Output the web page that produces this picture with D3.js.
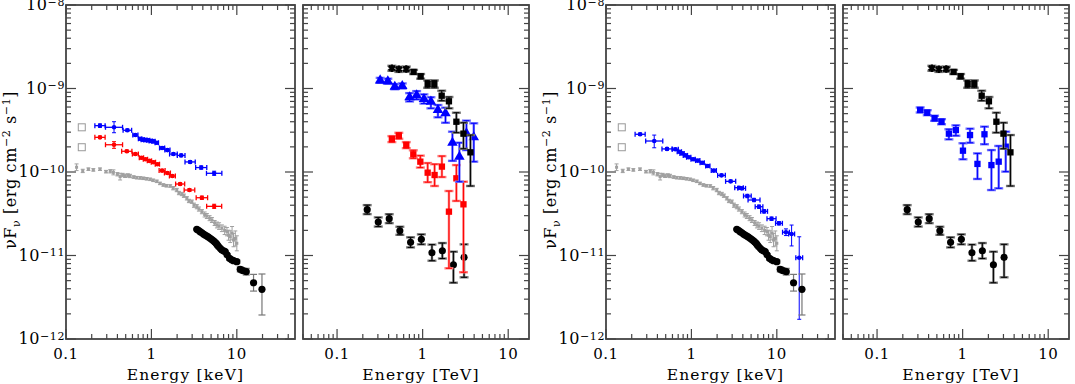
<!DOCTYPE html>
<html>
<head>
<meta charset="utf-8">
<script src="https://cdn.jsdelivr.net/npm/d3@7"></script>
<style>
  body { margin: 0; background: #fff; }
  text { font-family: "DejaVu Serif", serif; fill: #000; }
</style>
</head>
<body>
<div id="chart"></div>
<script>
// ---------- data ----------

// open grey squares (UV)
var uvE = [0.153, 0.153];
var uvF = [3.43e-10, 1.98e-10];

// grey X-ray spectrum (keV), error in dex
var greyE = [0.133, 0.157, 0.183, 0.209, 0.25, 0.294, 0.33, 0.359, 0.40, 0.43, 0.46, 0.492, 0.53, 0.562,
  0.62, 0.674, 0.74, 0.806, 0.88, 0.966, 1.05, 1.156, 1.26, 1.38, 1.5, 1.66, 1.8, 1.98, 2.1, 2.27, 2.4,
  2.6, 2.75, 2.97, 3.15, 3.4, 3.6, 3.9, 4.2, 4.46, 4.8, 5.11, 5.5, 5.85, 6.2, 6.69, 7.2, 7.66, 8.0,
  8.37, 8.8, 9.15, 9.6, 10.0];
var greyF = [1.14e-10, 1.03e-10, 1.08e-10, 1.06e-10, 1.08e-10, 1.01e-10, 1.02e-10, 9.9e-11, 9.4e-11,
  8.8e-11, 9.2e-11, 9.0e-11, 9.1e-11, 8.96e-11, 8.7e-11, 8.55e-11, 8.5e-11, 8.4e-11, 8.3e-11, 8.17e-11,
  7.95e-11, 7.73e-11, 7.3e-11, 6.99e-11, 6.85e-11, 6.8e-11, 6.4e-11, 6.08e-11, 5.6e-11, 5.45e-11,
  5.2e-11, 4.84e-11, 4.5e-11, 4.41e-11, 4.0e-11, 3.84e-11, 3.6e-11, 3.35e-11, 3.1e-11, 2.97e-11,
  2.8e-11, 2.66e-11, 2.45e-11, 2.32e-11, 2.25e-11, 2.12e-11, 2.0e-11, 1.93e-11, 1.75e-11, 1.68e-11,
  1.85e-11, 1.53e-11, 1.6e-11, 1.40e-11];
var greyErr = [0.04, 0.02, 0.015, 0.015, 0.015, 0.015, 0.02, 0.03, 0.02, 0.04, 0.02, 0.02, 0.02, 0.02,
  0.015, 0.015, 0.015, 0.015, 0.015, 0.015, 0.015, 0.015, 0.015, 0.015, 0.015, 0.015, 0.02, 0.02, 0.02,
  0.02, 0.02, 0.02, 0.02, 0.02, 0.025, 0.025, 0.025, 0.025, 0.03, 0.03, 0.03, 0.03, 0.03, 0.035, 0.04,
  0.04, 0.05, 0.05, 0.06, 0.07, 0.08, 0.08, 0.09, 0.09];

// black hard X-ray circles (keV)
var hardE = [3.40, 3.55, 3.72, 3.9, 4.07, 4.25, 4.46, 4.65, 4.88, 5.1, 5.33, 5.53, 5.73, 5.9, 6.11,
  6.4, 6.69, 7.0, 7.31, 7.7, 8.22, 8.7, 9.15, 10.0, 10.96, 11.8, 12.9, 15.7, 19.7];
var hardF = [2.06e-11, 2.0e-11, 1.93e-11, 1.87e-11, 1.81e-11, 1.76e-11, 1.71e-11, 1.66e-11, 1.61e-11,
  1.55e-11, 1.50e-11, 1.45e-11, 1.40e-11, 1.34e-11, 1.28e-11, 1.22e-11, 1.16e-11, 1.14e-11, 1.11e-11,
  1.02e-11, 9.25e-12, 8.9e-12, 8.67e-12, 8.43e-12, 6.83e-12, 6.6e-12, 6.4e-12, 4.72e-12, 3.94e-12];
var hardErrDn = [0.01, 0.01, 0.01, 0.01, 0.01, 0.01, 0.01, 0.01, 0.01, 0.01, 0.01, 0.01, 0.01, 0.01,
  0.01, 0.01, 0.01, 0.01, 0.01, 0.01, 0.02, 0.02, 0.02, 0.02, 0.03, 0.03, 0.04, 0.1, 0.308];
var hardErrUp = [0.01, 0.01, 0.01, 0.01, 0.01, 0.01, 0.01, 0.01, 0.01, 0.01, 0.01, 0.01, 0.01, 0.01,
  0.01, 0.01, 0.01, 0.01, 0.01, 0.01, 0.02, 0.02, 0.02, 0.02, 0.03, 0.03, 0.04, 0.1, 0.183];

// left figure, blue X-ray (keV); x half-width and y errors in dex
var blueAE = [0.25, 0.365, 0.523, 0.649, 0.737, 0.793, 0.851, 0.915, 0.984, 1.055, 1.156, 1.334, 1.54,
  1.81, 2.23, 2.84, 3.83, 5.43];
var blueAF = [3.59e-10, 3.43e-10, 3.16e-10, 2.77e-10, 2.5e-10, 2.44e-10, 2.42e-10, 2.40e-10, 2.35e-10,
  2.33e-10, 2.24e-10, 1.94e-10, 1.83e-10, 1.64e-10, 1.58e-10, 1.32e-10, 1.13e-10, 9.65e-11];
var blueADx = [0.06, 0.10, 0.05, 0.03, 0.02, 0.02, 0.02, 0.02, 0.02, 0.02, 0.02, 0.03, 0.03, 0.045,
  0.045, 0.06, 0.065, 0.09];
var blueADn = [0.02, 0.065, 0.015, 0.015, 0.015, 0.015, 0.015, 0.015, 0.015, 0.015, 0.015, 0.015, 0.015,
  0.015, 0.015, 0.015, 0.02, 0.025];
var blueAUp = [0.02, 0.067, 0.015, 0.015, 0.015, 0.015, 0.015, 0.015, 0.015, 0.015, 0.015, 0.015, 0.015,
  0.015, 0.015, 0.015, 0.02, 0.025];

// left figure, red X-ray (keV)
var redAE = [0.25, 0.365, 0.515, 0.649, 0.764, 0.851, 0.948, 1.055, 1.175, 1.334, 1.54, 1.76, 2.17,
  2.79, 3.90, 5.43];
var redAF = [2.60e-10, 2.12e-10, 1.77e-10, 1.64e-10, 1.48e-10, 1.42e-10, 1.36e-10, 1.31e-10, 1.24e-10,
  1.04e-10, 9.73e-11, 8.96e-11, 7.18e-11, 6.08e-11, 4.92e-11, 3.88e-11];
var redADx = [0.06, 0.10, 0.06, 0.035, 0.025, 0.025, 0.025, 0.025, 0.025, 0.035, 0.035, 0.035, 0.053,
  0.062, 0.067, 0.088];
var redADn = [0.015, 0.043, 0.015, 0.015, 0.015, 0.015, 0.015, 0.015, 0.015, 0.015, 0.015, 0.015, 0.015,
  0.015, 0.02, 0.025];
var redAUp = [0.015, 0.037, 0.015, 0.015, 0.015, 0.015, 0.015, 0.015, 0.015, 0.015, 0.015, 0.015, 0.015,
  0.015, 0.02, 0.025];

// right figure, blue X-ray (keV)
var blueBE = [0.251, 0.367, 0.518, 0.648, 0.722, 0.777, 0.85, 0.93, 1.047, 1.186, 1.336, 1.556, 1.83,
  2.25, 2.88, 3.61, 3.88, 4.52, 5.41, 6.19, 7.10, 8.67, 10.6, 12.8, 14.9, 18.3];
var blueBF = [2.83e-10, 2.35e-10, 1.89e-10, 1.87e-10, 1.75e-10, 1.67e-10, 1.58e-10, 1.50e-10, 1.42e-10,
  1.37e-10, 1.29e-10, 1.18e-10, 1.04e-10, 9.12e-11, 7.73e-11, 6.49e-11, 6.37e-11, 5.16e-11, 4.62e-11,
  3.84e-11, 3.38e-11, 2.76e-11, 2.43e-11, 1.90e-11, 1.81e-11, 9.4e-12];
var blueBDx = [0.059, 0.10, 0.059, 0.035, 0.025, 0.025, 0.025, 0.025, 0.025, 0.025, 0.025, 0.025, 0.03,
  0.045, 0.059, 0.05, 0.045, 0.045, 0.07, 0.045, 0.04, 0.053, 0.04, 0.04, 0.035, 0.04];
var blueBDn = [0.015, 0.081, 0.015, 0.015, 0.015, 0.015, 0.015, 0.015, 0.015, 0.015, 0.015, 0.015, 0.015,
  0.015, 0.015, 0.015, 0.015, 0.02, 0.02, 0.02, 0.02, 0.02, 0.02, 0.04, 0.143, 0.737];
var blueBUp = [0.015, 0.071, 0.015, 0.015, 0.015, 0.015, 0.015, 0.015, 0.015, 0.015, 0.015, 0.015, 0.015,
  0.015, 0.015, 0.015, 0.015, 0.02, 0.02, 0.02, 0.02, 0.02, 0.02, 0.04, 0.107, 0.251];

// gamma rays (TeV): black stars and squares, both figures
var starE = [0.437, 0.527, 0.644];
var starF = [1.75e-9, 1.70e-9, 1.71e-9];
var starLo = [1.63e-9, 1.58e-9, 1.59e-9];
var starHi = [1.87e-9, 1.82e-9, 1.83e-9];

var sqE = [0.784, 0.948, 1.145, 1.37, 1.67, 2.03, 2.48, 3.0, 3.62];
var sqF = [1.58e-9, 1.40e-9, 1.13e-9, 1.13e-9, 8.2e-10, 7.03e-10, 4.0e-10, 2.88e-10, 1.72e-10];
var sqLo = [1.49e-9, 1.31e-9, 1.02e-9, 1.02e-9, 7.14e-10, 5.79e-10, 2.96e-10, 1.90e-10, 6.8e-11];
var sqHi = [1.67e-9, 1.49e-9, 1.25e-9, 1.25e-9, 9.41e-10, 7.91e-10, 5.13e-10, 3.89e-10, 2.77e-10];

// gamma rays (TeV): low black circles, both figures
var lowE = [0.225, 0.303, 0.407, 0.542, 0.723, 0.966, 1.285, 1.70, 2.29, 3.05];
var lowF = [3.54e-11, 2.52e-11, 2.76e-11, 1.98e-11, 1.44e-11, 1.56e-11, 1.08e-11, 1.14e-11, 7.76e-12, 9.5e-12];
var lowLo = [3.13e-11, 2.22e-11, 2.44e-11, 1.77e-11, 1.25e-11, 1.36e-11, 8.66e-12, 9.2e-12, 4.72e-12, 5.48e-12];
var lowHi = [4.01e-11, 2.86e-11, 3.12e-11, 2.21e-11, 1.65e-11, 1.79e-11, 1.35e-11, 1.41e-11, 1.11e-11, 1.36e-11];

// left figure: blue triangles (TeV)
var triE = [0.319, 0.392, 0.473, 0.578, 0.704, 0.851, 1.036, 1.25, 1.51, 1.85, 2.23, 2.69, 3.25, 3.96];
var triF = [1.25e-9, 1.22e-9, 1.05e-9, 1.07e-9, 7.85e-10, 8.3e-10, 7.49e-10, 6.95e-10, 5.53e-10, 5.05e-10,
  2.24e-10, 1.52e-10, 2.90e-10, 2.61e-10];
var triLo = [1.17e-9, 1.14e-9, 0.98e-9, 1.0e-9, 7.0e-10, 7.4e-10, 6.6e-10, 5.79e-10, 4.52e-10, 3.89e-10,
  1.36e-10, 7.65e-11, 1.83e-10, 1.33e-10];
var triHi = [1.34e-9, 1.31e-9, 1.13e-9, 1.15e-9, 8.8e-10, 9.3e-10, 8.5e-10, 7.85e-10, 6.34e-10, 5.89e-10,
  3.04e-10, 2.24e-10, 4.12e-10, 3.83e-10];

// left figure: red squares (TeV)
var redTE = [0.437, 0.527, 0.644, 0.778, 0.940, 1.145, 1.38, 1.68, 2.03, 2.48, 3.0];
var redTF = [2.48e-10, 2.72e-10, 2.10e-10, 1.63e-10, 1.33e-10, 9.82e-11, 9.2e-11, 1.16e-10, 3.35e-11, 8.4e-11, 4.1e-11];
var redTLo = [2.28e-10, 2.50e-10, 1.93e-10, 1.46e-10, 1.13e-10, 7.55e-11, 6.8e-11, 8.7e-11, 7.03e-12, 4.5e-11, 6.3e-12];
var redTHi = [2.69e-10, 2.95e-10, 2.28e-10, 1.82e-10, 1.57e-10, 1.28e-10, 1.24e-10, 1.55e-10, 5.92e-11, 1.21e-10, 7.65e-11];

// right figure: blue squares (TeV)
var bsqE = [0.319, 0.386, 0.470, 0.567, 0.691, 0.834, 1.009, 1.22, 1.49, 1.80, 2.17, 2.64, 3.19];
var bsqF = [5.53e-10, 5.13e-10, 4.40e-10, 4.0e-10, 2.88e-10, 3.18e-10, 1.80e-10, 2.77e-10, 1.25e-10, 2.83e-10,
  1.21e-10, 1.33e-10, 2.01e-10];
var bsqLo = [5.16e-10, 4.79e-10, 4.10e-10, 3.73e-10, 2.46e-10, 2.72e-10, 1.42e-10, 2.24e-10, 8.25e-11, 2.15e-10,
  6.08e-11, 6.38e-11, 1.01e-10];
var bsqHi = [5.93e-10, 5.50e-10, 4.72e-10, 4.29e-10, 3.25e-10, 3.62e-10, 2.21e-10, 3.30e-10, 1.67e-10, 3.49e-10,
  1.83e-10, 2.05e-10, 3.04e-10];

var yDecades = [-12, -11, -10, -9, -8];
var xLabelVals = [0.1, 1, 10];

// ---------- layout ----------
var W = 1075, H = 384;
var top_ = 5, bottom = 339;
var axisCol = "#444";

var svg = d3.select("#chart").append("svg")
    .attr("width", W)
    .attr("height", H);

var y = d3.scaleLog().domain([1e-12, 1e-8]).range([bottom, top_]);

function logTicks(lo, hi) {
    var out = [];
    for (var d = Math.floor(Math.log10(lo)); d <= Math.ceil(Math.log10(hi)); d++) {
        for (var m = 1; m < 10; m++) {
            var v = m * Math.pow(10, d);
            if (v >= lo * 0.9999 && v <= hi * 1.0001) out.push({ v: v, major: m === 1 });
        }
    }
    return out;
}

function drawPanel(g, x, yLabels, title) {
    var x0 = x.range()[0], x1 = x.range()[1];
    var xt = logTicks(x.domain()[0], x.domain()[1]);
    var yt = logTicks(1e-12, 1e-8);

    // x ticks, bottom and top
    g.selectAll(".xtb").data(xt).enter().append("line")
        .attr("x1", function (d) { return x(d.v); })
        .attr("x2", function (d) { return x(d.v); })
        .attr("y1", bottom)
        .attr("y2", function (d) { return bottom - (d.major ? 10 : 5); })
        .style("stroke", axisCol).style("stroke-width", 1.2);
    g.selectAll(".xtt").data(xt).enter().append("line")
        .attr("x1", function (d) { return x(d.v); })
        .attr("x2", function (d) { return x(d.v); })
        .attr("y1", top_)
        .attr("y2", function (d) { return top_ + (d.major ? 10 : 5); })
        .style("stroke", axisCol).style("stroke-width", 1.2);
    // y ticks, left and right
    g.selectAll(".ytl").data(yt).enter().append("line")
        .attr("y1", function (d) { return y(d.v); })
        .attr("y2", function (d) { return y(d.v); })
        .attr("x1", x0)
        .attr("x2", function (d) { return x0 + (d.major ? 10 : 5); })
        .style("stroke", axisCol).style("stroke-width", 1.2);
    g.selectAll(".ytr").data(yt).enter().append("line")
        .attr("y1", function (d) { return y(d.v); })
        .attr("y2", function (d) { return y(d.v); })
        .attr("x1", x1)
        .attr("x2", function (d) { return x1 - (d.major ? 10 : 5); })
        .style("stroke", axisCol).style("stroke-width", 1.2);

    g.append("rect")
        .attr("x", x0).attr("y", top_)
        .attr("width", x1 - x0).attr("height", bottom - top_)
        .style("fill", "none").style("stroke", axisCol).style("stroke-width", 1.8);

    // x tick labels
    g.selectAll(".xl").data(xLabelVals).enter().append("text")
        .attr("x", function (d) { return x(d); })
        .attr("y", bottom + 20)
        .attr("text-anchor", "middle")
        .style("font-size", "15px")
        .style("letter-spacing", "0.5px")
        .text(function (d) { return String(d); });

    g.append("text")
        .attr("x", (x0 + x1) / 2 + 5)
        .attr("y", bottom + 41)
        .attr("text-anchor", "middle")
        .style("font-size", "15.5px")
        .style("letter-spacing", "1.2px")
        .text(title);

    if (yLabels) {
        var yl = g.selectAll(".yl").data(yDecades).enter().append("text")
            .attr("x", x0 - 1)
            .attr("y", function (d) { return y(Math.pow(10, d)) + 5; })
            .attr("text-anchor", "end")
            .style("font-size", "16px")
            .style("letter-spacing", "0.6px");
        yl.append("tspan").text("10");
        yl.append("tspan").attr("dy", -4.5).style("font-size", "11px")
            .text(function (d) { return "\u2212" + (-d); });

        var t = g.append("text")
            .attr("transform", "translate(" + (x0 - 50) + "," + 170 + ") rotate(-90)")
            .attr("text-anchor", "middle")
            .style("font-size", "16px")
            .style("letter-spacing", "0.6px");
        t.append("tspan").text("\u03BDF");
        t.append("tspan").attr("dy", 4).style("font-size", "11px").text("\u03BD");
        t.append("tspan").attr("dy", -4).text(" [erg cm");
        t.append("tspan").attr("dy", -6).style("font-size", "11px").text("\u22122");
        t.append("tspan").attr("dy", 6).text(" s");
        t.append("tspan").attr("dy", -6).style("font-size", "11px").text("\u22121");
        t.append("tspan").attr("dy", 6).text("]");
    }
}

function vbar(g, cx, ya, yb, color, sw, cap) {
    g.append("line").attr("x1", cx).attr("x2", cx).attr("y1", ya).attr("y2", yb)
        .style("stroke", color).style("stroke-width", sw);
    [ya, yb].forEach(function (yy) {
        g.append("line").attr("x1", cx - cap / 2).attr("x2", cx + cap / 2).attr("y1", yy).attr("y2", yy)
            .style("stroke", color).style("stroke-width", sw);
    });
}

function hbar(g, xa, xb, cy, color, sw, cap) {
    g.append("line").attr("x1", xa).attr("x2", xb).attr("y1", cy).attr("y2", cy)
        .style("stroke", color).style("stroke-width", sw);
    [xa, xb].forEach(function (xx) {
        g.append("line").attr("x1", xx).attr("x2", xx).attr("y1", cy - cap / 2).attr("y2", cy + cap / 2)
            .style("stroke", color).style("stroke-width", sw);
    });
}

// X-ray series with energy bins and error bars (dex)
function keVSeries(g, x, E, F, dx, dn, up, color, r) {
    E.forEach(function (e, i) {
        var f = F[i];
        hbar(g, x(e / Math.pow(10, dx[i])), x(e * Math.pow(10, dx[i])), y(f), color, 1.3, 5);
        vbar(g, x(e), y(f / Math.pow(10, dn[i])), y(f * Math.pow(10, up[i])), color, 1, 4);
    });
    g.selectAll(null).data(E).enter().append("circle")
        .attr("cx", function (d) { return x(d); })
        .attr("cy", function (d, i) { return y(F[i]); })
        .attr("r", r)
        .style("fill", color);
}

// gamma-ray series: light (total) and dark (stat.) error bars
function teVSeries(g, x, E, F, lo, hi, color, light, type, size, stroked) {
    E.forEach(function (e, i) {
        vbar(g, x(e), y(lo[i]), y(hi[i]), light, 2.4, 9);
        vbar(g, x(e), y(lo[i]), y(hi[i]), color, 1, 6);
    });
    var sym = d3.symbol().type(type).size(size);
    g.selectAll(null).data(E).enter().append("path")
        .attr("transform", function (d, i) { return "translate(" + x(d) + "," + y(F[i]) + ")"; })
        .attr("d", sym)
        .style("fill", stroked ? "none" : color)
        .style("stroke", stroked ? color : "none")
        .style("stroke-width", stroked ? 2.2 : 0);
}

function drawFigure(dx, blueE, blueF, blueDx, blueDn, blueUp, withRed, withTri) {
    var g = svg.append("g").attr("transform", "translate(" + dx + ",0)");

    // ---- X-ray panel ----
    var xk = d3.scaleLog().domain([0.1, 48]).range([66, 295]);
    var gk = g.append("g");

    // open UV squares
    gk.selectAll(null).data(uvE).enter().append("rect")
        .attr("x", function (d) { return xk(d) - 3.5; })
        .attr("y", function (d, i) { return y(uvF[i]) - 3.5; })
        .attr("width", 7).attr("height", 7)
        .style("fill", "none").style("stroke", "#999").style("stroke-width", 1);

    // grey spectrum
    greyE.forEach(function (e, i) {
        var f = greyF[i], er = Math.pow(10, greyErr[i]);
        vbar(gk, xk(e), y(f / er), y(f * er), "#a0a0a0", 1, 4);
    });
    gk.selectAll(null).data(greyE).enter().append("rect")
        .attr("x", function (d) { return xk(d) - 1.5; })
        .attr("y", function (d, i) { return y(greyF[i]) - 1.5; })
        .attr("width", 3).attr("height", 3)
        .style("fill", "#a0a0a0");

    if (withRed) keVSeries(gk, xk, redAE, redAF, redADx, redADn, redAUp, "#ff0000", 2.3);
    keVSeries(gk, xk, blueE, blueF, blueDx, blueDn, blueUp, "#0000ff", 2.3);

    // hard X-ray black circles
    hardE.forEach(function (e, i) {
        var f = hardF[i];
        vbar(gk, xk(e), y(f / Math.pow(10, hardErrDn[i])), y(f * Math.pow(10, hardErrUp[i])), "#777", 1.2, 7);
    });
    gk.selectAll(null).data(hardE).enter().append("circle")
        .attr("cx", function (d) { return xk(d); })
        .attr("cy", function (d, i) { return y(hardF[i]); })
        .attr("r", 3.6)
        .style("fill", "#000");

    drawPanel(gk, xk, true, "Energy [keV]");

    // ---- gamma-ray panel ----
    var xt = d3.scaleLog().domain([0.04, 17.5]).range([303, 529]);
    var gt = g.append("g");

    teVSeries(gt, xt, lowE, lowF, lowLo, lowHi, "#000", "#777", d3.symbolCircle, 40, false);
    if (withRed) teVSeries(gt, xt, redTE, redTF, redTLo, redTHi, "#ff0000", "#ff7a7a", d3.symbolSquare, 40, false);
    if (withTri) teVSeries(gt, xt, triE, triF, triLo, triHi, "#0000ff", "#7070ff", d3.symbolTriangle, 48, false);
    else teVSeries(gt, xt, bsqE, bsqF, bsqLo, bsqHi, "#0000ff", "#7070ff", d3.symbolSquare, 40, false);
    teVSeries(gt, xt, sqE, sqF, sqLo, sqHi, "#000", "#777", d3.symbolSquare, 40, false);
    teVSeries(gt, xt, starE, starF, starLo, starHi, "#000", "#777", d3.symbolAsterisk, 40, true);

    drawPanel(gt, xt, false, "Energy [TeV]");
}

drawFigure(0, blueAE, blueAF, blueADx, blueADn, blueAUp, true, true);
drawFigure(540, blueBE, blueBF, blueBDx, blueBDn, blueBUp, false, false);
</script>
</body>
</html>
